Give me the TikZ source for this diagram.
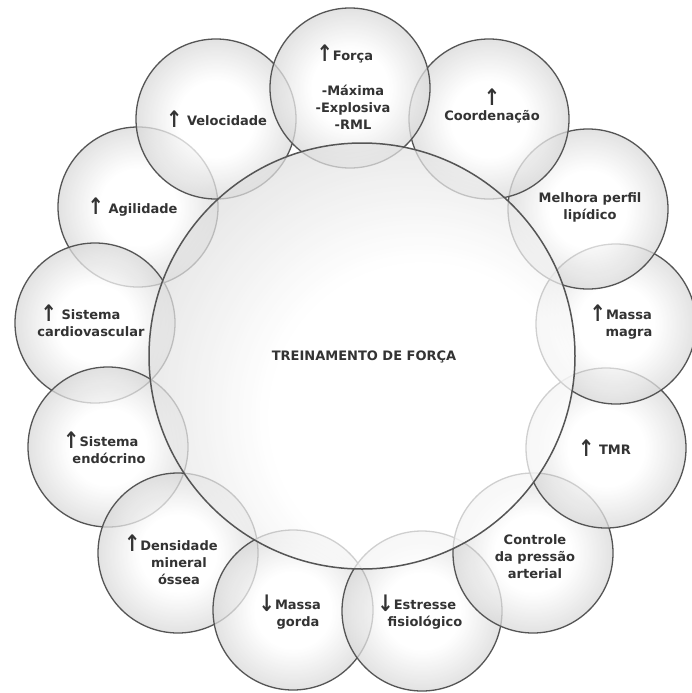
\documentclass[tikz,border=0pt]{standalone}
\usepackage{fontspec}
\setmainfont{DejaVu Sans}
\definecolor{ink}{HTML}{333333}
\definecolor{rim}{HTML}{555555}
\pgfdeclareradialshading{bubshade}{\pgfpoint{0bp}{0bp}}{color(0bp)=(white); color(12bp)=(white); color(50bp)=(black!44)}
\pgfdeclareradialshading{hubshade}{\pgfpoint{10bp}{-10bp}}{color(0bp)=(white); color(18bp)=(white); color(64bp)=(black!42)}
\newcommand{\arrup}{\raisebox{-1.5pt}{\scalebox{1.5}[1.75]{↑}}}
\newcommand{\arrdown}{\raisebox{-1.5pt}{\scalebox{1.5}[1.75]{↓}}}
\tikzset{
	bubble/.style={shading=bubshade, draw=rim, line width=1.3pt, fill opacity=.75},
	hub/.style={shading=hubshade, draw=rim, line width=1.5pt, fill opacity=.72},
	bubtext/.style={font=\bfseries\fontsize{13}{17}\selectfont, text=ink, align=center, inner sep=0pt},
}
\begin{document}
\begin{tikzpicture}[x=1pt, y=-1pt]
		\useasboundingbox (0,0) rectangle (692,693);
		\foreach \p in {(138,207),(216,119),(95,323),(108,447),(178,553),(293,610),(422,611),(533,553),(606,448),(616,324),(588,209),(489,119),(350,88)}
			\shadedraw[bubble] \p circle (80pt);
		\shadedraw[hub] (362,356) circle (213pt);
		\node[bubtext] (treino) at (364,357) {TREINAMENTO DE FORÇA};
		\node[bubtext] (forca) at (353,87) {\llap{\arrup}Força\\[18pt]-Máxima\\-Explosiva\\-RML};
		\node[bubtext] (coord) at (492,106) {\arrup\\Coordenação};
		\node[bubtext] (lipidico) at (590,207) {Melhora perfil\\lipídico};
		\node[bubtext] (magra) at (629,322) {\llap{\arrup}Massa\\magra};
		\node[bubtext] (tmr) at (615,448) {\llap{\arrup\ }TMR};
		\node[bubtext] (pressao) at (535,557) {Controle\\da pressão\\arterial};
		\node[bubtext] (estresse) at (425,612) {\llap{\arrdown}Estresse\\fisiológico};
		\node[bubtext] (gorda) at (298,612) {\llap{\arrdown}Massa\\gorda};
		\node[bubtext] (ossea) at (179,560) {\llap{\arrup}Densidade\\mineral\\óssea};
		\node[bubtext] (endocrino) at (109,448) {\llap{\arrup}Sistema\\endócrino};
		\node[bubtext] (cardio) at (91,321) {\llap{\arrup\ }Sistema\\cardiovascular};
		\node[bubtext] (agilidade) at (143,207) {\llap{\arrup\ }Agilidade};
		\node[bubtext] (velocidade) at (227,119) {\llap{\arrup\ }Velocidade};
	\end{tikzpicture}
\end{document}
